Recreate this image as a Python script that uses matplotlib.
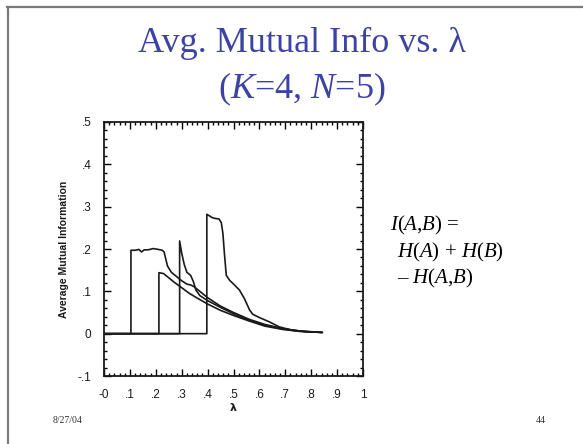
import numpy as np
import matplotlib
matplotlib.use('Agg')
import matplotlib.pyplot as plt
from matplotlib.ticker import MultipleLocator, FixedLocator
from matplotlib.lines import Line2D

plt.rcParams['mathtext.fontset'] = 'custom'
plt.rcParams['mathtext.rm'] = 'Liberation Serif'
plt.rcParams['mathtext.it'] = 'Liberation Serif:italic'

# curves of average mutual information vs lambda
lam_a = [0, 0.104, 0.104, 0.12, 0.135, 0.145, 0.155, 0.17, 0.19, 0.21, 0.225, 0.232, 0.245,
         0.26, 0.28, 0.30, 0.32, 0.335, 0.35, 0.37, 0.40, 0.45, 0.50, 0.56, 0.62, 0.69, 0.76, 0.84]
mi_a = [0, 0, 0.197, 0.197, 0.199, 0.193, 0.198, 0.198, 0.201, 0.199, 0.197, 0.193, 0.160,
        0.145, 0.135, 0.125, 0.117, 0.115, 0.110, 0.100, 0.085, 0.065, 0.050, 0.034, 0.022, 0.012, 0.006, 0.003]

lam_b = [0, 0.212, 0.212, 0.23, 0.25, 0.27, 0.29, 0.31, 0.33, 0.36, 0.40, 0.45, 0.50,
         0.56, 0.62, 0.69, 0.76, 0.84]
mi_b = [0, 0, 0.144, 0.142, 0.132, 0.122, 0.113, 0.104, 0.095, 0.084, 0.070, 0.055, 0.043,
        0.030, 0.018, 0.010, 0.005, 0.003]

lam_c = [0, 0.292, 0.292, 0.30, 0.31, 0.32, 0.33, 0.335, 0.345, 0.355, 0.37, 0.40, 0.45,
         0.50, 0.56, 0.62, 0.69, 0.76, 0.84]
mi_c = [0, 0, 0.219, 0.19, 0.163, 0.145, 0.140, 0.137, 0.123, 0.103, 0.090, 0.078, 0.062,
        0.047, 0.032, 0.020, 0.011, 0.006, 0.003]

lam_d = [0, 0.397, 0.397, 0.408, 0.418, 0.431, 0.444, 0.453, 0.459, 0.465, 0.472, 0.485,
         0.504, 0.523, 0.542, 0.562, 0.574, 0.600, 0.638, 0.677, 0.728, 0.792, 0.843]
mi_d = [0, 0, 0.282, 0.278, 0.274, 0.272, 0.271, 0.262, 0.237, 0.189, 0.138, 0.126,
        0.115, 0.103, 0.083, 0.056, 0.046, 0.038, 0.028, 0.016, 0.008, 0.004, 0.003]

xticks = [0, 0.1, 0.2, 0.3, 0.4, 0.5, 0.6, 0.7, 0.8, 0.9, 1.0]
xtick_labels = ['-0', '.1', '.2', '.3', '.4', '.5', '.6', '.7', '.8', '.9', '1']
yticks = [-0.1, 0, 0.1, 0.2, 0.3, 0.4, 0.5]
ytick_labels = ['-.1', '0', '.1', '.2', '.3', '.4', '.5']

fig = plt.figure(figsize=(5.83, 4.44), dpi=100)
fig.patch.set_facecolor('white')

# slide border (top and left)
fig.add_artist(Line2D([7 / 583, 1], [1 - 7 / 444, 1 - 7 / 444], color='#7a7a7a', lw=1.6))
fig.add_artist(Line2D([8 / 583, 8 / 583], [0, 1 - 7 / 444], color='#7a7a7a', lw=1.6))

title_col = '#3d42a5'
fig.text(302 / 583, 1 - 43 / 444, 'Avg. Mutual Info vs. λ', ha='center', va='center',
         fontsize=26, family='Liberation Serif', color=title_col)
fig.text(302 / 583, 1 - 89 / 444, '($K$=4, $N$=5)', ha='center', va='center',
         fontsize=26, family='Liberation Serif', color=title_col)

ax = fig.add_axes([104 / 583, 1 - 376 / 444, 259 / 583, 254 / 444])
for lx, ly in [(lam_a, mi_a), (lam_b, mi_b), (lam_c, mi_c), (lam_d, mi_d)]:
    ax.plot(lx, ly, color='#1a1a1a', lw=1.2)

ax.set_xlim(0, 1)
ax.set_ylim(-0.1, 0.5)
ax.xaxis.set_major_locator(FixedLocator(xticks))
ax.set_xticklabels(xtick_labels)
ax.yaxis.set_major_locator(FixedLocator(yticks))
ax.set_yticklabels(ytick_labels)
ax.xaxis.set_minor_locator(MultipleLocator(0.02))
ax.yaxis.set_minor_locator(MultipleLocator(0.02))
ax.tick_params(which='both', direction='in', top=True, right=True, width=1.0,
               labelsize=8.5)
ax.tick_params(axis='x', pad=9)
ax.tick_params(axis='y', pad=9)
ax.tick_params(which='major', length=5)
ax.tick_params(which='minor', length=2.5)
for lab in ax.get_xticklabels() + ax.get_yticklabels():
    lab.set_family('Liberation Sans')
    lab.set_color('#1a1a1a')
for sp in ax.spines.values():
    sp.set_linewidth(1.3)
    sp.set_color('#1a1a1a')
ax.set_ylabel('Average Mutual Information', fontsize=7.5, fontweight='bold',
              family='Liberation Sans', color='#1a1a1a', labelpad=6)
ax.set_xlabel('λ', fontsize=8, fontweight='bold', color='#1a1a1a', labelpad=2)

# formula on the right
fig.text(390 / 583, 1 - 225 / 444, '$I$($A$,$B$) =', fontsize=15,
         family='Liberation Serif', va='center')
fig.text(397 / 583, 1 - 252 / 444, '$H$($A$) + $H$($B$)', fontsize=15,
         family='Liberation Serif', va='center')
fig.text(397 / 583, 1 - 278 / 444, '– $H$($A$,$B$)', fontsize=15,
         family='Liberation Serif', va='center')

# footer
fig.text(68 / 583, 1 - 420 / 444, '8/27/04', fontsize=7, family='Liberation Serif',
         ha='center', va='center', color='#333333')
fig.text(541 / 583, 1 - 420 / 444, '44', fontsize=7, family='Liberation Serif',
         ha='center', va='center', color='#333333')

fig.savefig('out.png', dpi=100)
